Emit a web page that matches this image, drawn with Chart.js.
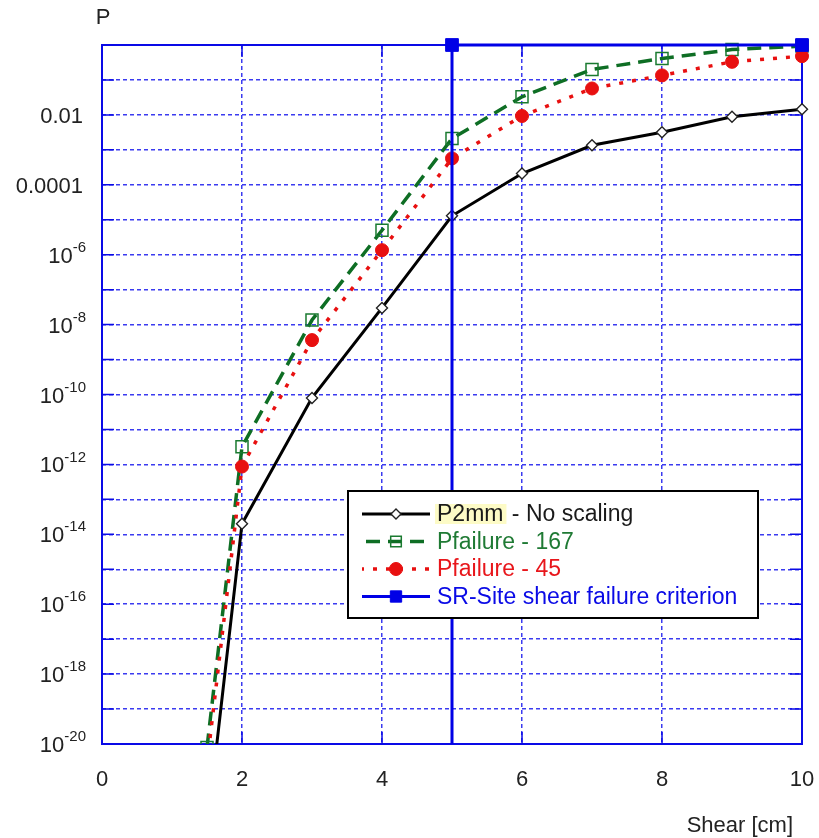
<!DOCTYPE html>
<html>
<head>
<meta charset="utf-8">
<title>Shear failure probability</title>
<script src="https://cdn.jsdelivr.net/npm/chart.js"></script>
<style>
  html, body { margin: 0; padding: 0; background: #fff; }
  #chart { display: block; }
</style>
</head>
<body>
<canvas id="chart" width="819" height="838"></canvas>
<script>
// shear displacement [cm]
const shear = [1.5, 2, 3, 4, 5, 6, 7, 8, 9, 10];

// probabilities per series
const p2mm = [3.5e-23, 2e-14, 8e-11, 3e-8, 1.3e-5, 2.1e-4, 1.35e-3, 3.2e-3, 8.9e-3, 1.45e-2];
const pFailure167 = [8e-21, 3.2e-12, 1.35e-8, 5e-6, 2.1e-3, 3.3e-2, 0.2, 0.41, 0.74, 0.93];
const pFailure45 = [2.7e-21, 8.7e-13, 3.6e-9, 1.35e-6, 5.7e-4, 9.3e-3, 5.7e-2, 0.135, 0.33, 0.48];

// SR-Site criterion: vertical at 5 cm, then flat at P = 1
const criterionShear = [5, 5, 10];
const criterionP = [1e-20, 1, 1];

const seriesLabels = ['P2mm', 'Pfailure - 167', 'Pfailure - 45', 'SR-Site shear failure criterion'];

// axis ticks
const xTickValues = [0, 2, 4, 6, 8, 10];
const yTickValues = [1e-2, 1e-4, 1e-6, 1e-8, 1e-10, 1e-12, 1e-14, 1e-16, 1e-18, 1e-20];
const yTickText = ['0.01', '0.0001', '10^-6', '10^-8', '10^-10', '10^-12', '10^-14', '10^-16', '10^-18', '10^-20'];

const FONT = "'Liberation Sans', Arial, sans-serif";
const GRID_BLUE = '#3b3bf0';
const FRAME_BLUE = '#0a0ae6';

function toPoints(xs, ys) {
    return xs.map((x, i) => ({ x: x, y: ys[i] }));
}

// frame round the plot area plus short inward ticks
const framePlugin = {
    id: 'frame',
    beforeDatasetsDraw(chart) {
        const { ctx, chartArea: a, scales } = chart;
        ctx.save();
        ctx.strokeStyle = FRAME_BLUE;
        ctx.lineWidth = 2;
        ctx.setLineDash([]);
        ctx.strokeRect(a.left, a.top, a.right - a.left, a.bottom - a.top);
        ctx.lineWidth = 1.5;
        ctx.beginPath();
        scales.y.ticks.forEach(t => {
            const y = scales.y.getPixelForValue(t.value);
            ctx.moveTo(a.left, y); ctx.lineTo(a.left + 12, y);
            ctx.moveTo(a.right, y); ctx.lineTo(a.right - 12, y);
        });
        scales.x.ticks.forEach(t => {
            const x = scales.x.getPixelForValue(t.value);
            ctx.moveTo(x, a.bottom); ctx.lineTo(x, a.bottom - 12);
            ctx.moveTo(x, a.top); ctx.lineTo(x, a.top + 12);
        });
        ctx.stroke();
        ctx.restore();
    }
};

// tick labels, axis titles and the boxed legend
const labelsPlugin = {
    id: 'labels',
    afterDraw(chart) {
        const { ctx, scales } = chart;
        ctx.save();
        ctx.fillStyle = '#222';
        ctx.textBaseline = 'middle';

        // y ticks, with superscript exponents
        yTickValues.forEach((v, i) => {
            const y = scales.y.getPixelForValue(v) + 2;
            const parts = yTickText[i].split('^');
            if (parts.length === 1) {
                ctx.font = '22px ' + FONT;
                ctx.textAlign = 'right';
                ctx.fillText(parts[0], 83, y);
            } else {
                ctx.font = '15px ' + FONT;
                ctx.textAlign = 'right';
                ctx.fillText(parts[1], 86, y - 9);
                const w = ctx.measureText(parts[1]).width;
                ctx.font = '22px ' + FONT;
                ctx.fillText(parts[0], 86 - w, y);
            }
        });

        // x ticks
        ctx.font = '22px ' + FONT;
        ctx.textAlign = 'center';
        xTickValues.forEach(v => {
            ctx.fillText(String(v), scales.x.getPixelForValue(v), 780);
        });

        ctx.fillText('P', 103, 18);
        ctx.textAlign = 'right';
        ctx.fillText('Shear [cm]', 793, 826);

        drawLegend(chart);
        ctx.restore();
    }
};

function drawLegend(chart) {
    const ctx = chart.ctx;
    const box = { left: 348, top: 491, right: 758, bottom: 618 };
    const rows = [514, 541.5, 569, 596.5];
    const textColors = ['#1a1a1a', '#1f7a34', '#e8161b', '#0a0ae6'];

    ctx.save();
    ctx.fillStyle = '#fff';
    ctx.fillRect(box.left, box.top, box.right - box.left, box.bottom - box.top);
    ctx.strokeStyle = '#000';
    ctx.lineWidth = 2;
    ctx.setLineDash([]);
    ctx.strokeRect(box.left, box.top, box.right - box.left, box.bottom - box.top);

    ctx.font = '23px ' + FONT;
    ctx.textBaseline = 'middle';
    ctx.textAlign = 'left';

    chart.data.datasets.forEach((ds, i) => {
        const y = rows[i];
        // line sample
        ctx.strokeStyle = ds.borderColor;
        ctx.lineWidth = ds.borderWidth;
        ctx.setLineDash(ds.borderDash || []);
        ctx.lineDashOffset = ds.legendDashOffset || 0;
        ctx.beginPath();
        ctx.moveTo(362, y);
        ctx.lineTo(430, y);
        ctx.stroke();
        ctx.lineDashOffset = 0;
        ctx.setLineDash([]);

        // marker
        ctx.fillStyle = ds.pointBackgroundColor;
        ctx.strokeStyle = ds.pointBorderColor;
        ctx.lineWidth = ds.pointBorderWidth;
        const r = Array.isArray(ds.pointRadius) ? Math.max(...ds.pointRadius) : ds.pointRadius;
        Chart.helpers.drawPoint(ctx, {
            pointStyle: ds.pointStyle,
            radius: ds.legendRadius || r,
            rotation: 0,
            borderWidth: ds.pointBorderWidth
        }, 396, y);

        // label
        if (i === 0) {
            const w = ctx.measureText(ds.label).width;
            ctx.fillStyle = '#fdfbc6';
            ctx.fillRect(435, y - 10, w + 5, 20);
            ctx.fillStyle = textColors[i];
            ctx.fillText(ds.label, 437, y + 1);
            ctx.fillText(' - No scaling', 437 + w + 2, y + 1);
        } else {
            ctx.fillStyle = textColors[i];
            ctx.fillText(ds.label, 437, y + 1);
        }
    });
    ctx.restore();
}

const pointClip = { left: 20, top: 20, right: 20, bottom: 0 };

new Chart(document.getElementById('chart'), {
    type: 'line',
    data: {
        datasets: [
            {
                label: seriesLabels[0],
                data: toPoints(shear, p2mm),
                borderColor: '#000',
                borderWidth: 3,
                pointStyle: 'rectRot',
                pointRadius: 5.5,
                pointBackgroundColor: '#fff',
                pointBorderColor: '#222',
                pointBorderWidth: 1.4,
                legendRadius: 5,
                clip: pointClip,
                order: 3
            },
            {
                label: seriesLabels[1],
                data: toPoints(shear, pFailure167),
                borderColor: '#0e6e24',
                borderWidth: 3.5,
                borderDash: [14, 8],
                legendDashOffset: -4,
                pointStyle: 'rect',
                pointRadius: 8.5,
                pointBackgroundColor: 'rgba(255,255,255,0)',
                pointBorderColor: '#1a7a30',
                pointBorderWidth: 1.5,
                legendRadius: 7.5,
                clip: pointClip,
                order: 2
            },
            {
                label: seriesLabels[2],
                data: toPoints(shear, pFailure45),
                borderColor: '#e81010',
                borderWidth: 3.5,
                borderDash: [4, 9],
                legendDashOffset: 2,
                pointStyle: 'circle',
                pointRadius: 6.5,
                pointBackgroundColor: '#e81010',
                pointBorderColor: '#e81010',
                pointBorderWidth: 1,
                clip: pointClip,
                order: 1
            },
            {
                label: seriesLabels[3],
                data: toPoints(criterionShear, criterionP),
                borderColor: '#0000e6',
                borderWidth: 3,
                pointStyle: 'rect',
                pointRadius: [0, 9, 9],
                pointBackgroundColor: '#0000e6',
                pointBorderColor: '#0000e6',
                pointBorderWidth: 1,
                legendRadius: 8,
                clip: false,
                order: 0
            }
        ]
    },
    options: {
        responsive: false,
        animation: false,
        devicePixelRatio: 1,
        layout: {
            autoPadding: false,
            padding: { left: 102, top: 45, right: 17, bottom: 94 }
        },
        elements: {
            line: { tension: 0 }
        },
        plugins: {
            legend: { display: false },
            tooltip: { enabled: false }
        },
        scales: {
            x: {
                type: 'linear',
                min: 0,
                max: 10,
                afterBuildTicks: scale => {
                    scale.ticks = xTickValues.map(v => ({ value: v }));
                },
                ticks: { display: false },
                grid: { color: GRID_BLUE, lineWidth: 1.5, drawTicks: false },
                border: { display: false, dash: [4, 3] }
            },
            y: {
                type: 'logarithmic',
                min: 1e-20,
                max: 1,
                afterBuildTicks: scale => {
                    const decades = [];
                    for (let e = -20; e <= 0; e++) decades.push({ value: Math.pow(10, e) });
                    scale.ticks = decades;
                },
                ticks: { display: false },
                grid: { color: GRID_BLUE, lineWidth: 1.5, drawTicks: false },
                border: { display: false, dash: [4, 3] }
            }
        }
    },
    plugins: [framePlugin, labelsPlugin]
});
</script>
</body>
</html>
